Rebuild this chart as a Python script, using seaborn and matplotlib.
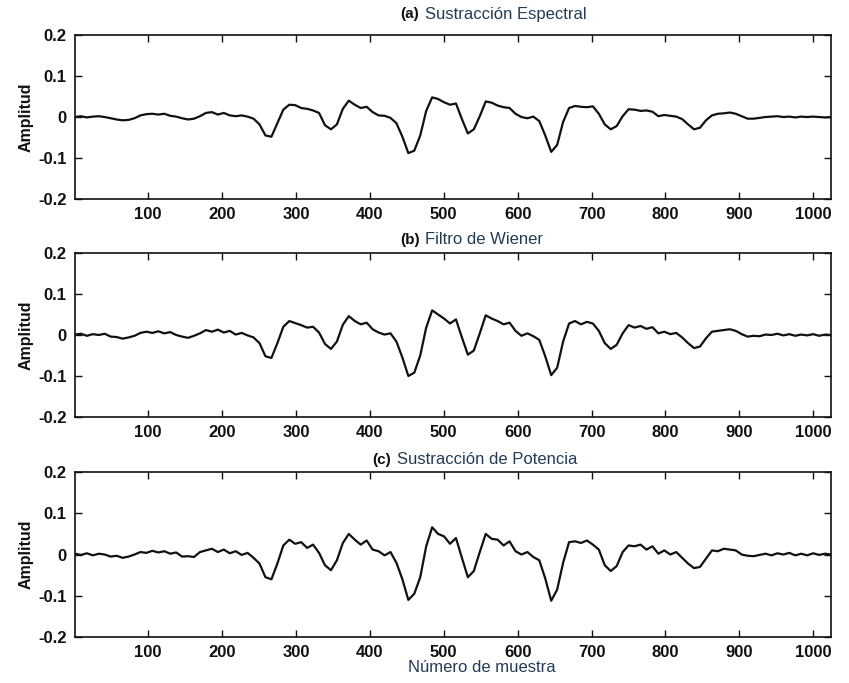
import numpy as np
import pandas as pd
import seaborn as sns
import matplotlib.pyplot as plt

# ----------------- Data -----------------
panel_tags = ["(a)", "(b)", "(c)"]
panel_names = ["Sustracción Espectral", "Filtro de Wiener", "Sustracción de Potencia"]

espectral = [
    0.000, 0.002, -0.001, 0.001, 0.002, 0.000, -0.003, -0.006, -0.008, -0.007,
    -0.003, 0.004, 0.007, 0.008, 0.006, 0.008, 0.003, 0.001, -0.003, -0.006,
    -0.004, 0.002, 0.010, 0.012, 0.006, 0.010, 0.004, 0.002, 0.004, 0.001,
    -0.004, -0.018, -0.045, -0.048, -0.015, 0.018, 0.030, 0.029, 0.022, 0.020,
    0.016, 0.010, -0.020, -0.030, -0.018, 0.020, 0.040, 0.030, 0.022, 0.025,
    0.012, 0.004, 0.003, -0.002, -0.015, -0.048, -0.088, -0.082, -0.045, 0.015,
    0.048, 0.044, 0.036, 0.030, 0.033, -0.005, -0.040, -0.030, 0.002, 0.038,
    0.035, 0.028, 0.024, 0.022, 0.008, 0.000, -0.003, 0.001, -0.010, -0.045,
    -0.085, -0.068, -0.012, 0.022, 0.027, 0.025, 0.024, 0.026, 0.008, -0.018,
    -0.030, -0.022, 0.002, 0.019, 0.018, 0.015, 0.016, 0.013, 0.002, 0.005,
    0.003, 0.001, -0.005, -0.018, -0.030, -0.026, -0.008, 0.004, 0.008, 0.009,
    0.011, 0.008, 0.002, -0.004, -0.004, -0.002, 0.000, 0.001, 0.002, 0.000,
    0.001, -0.001, 0.001, 0.000, 0.001, 0.000, -0.001, 0.000,
]

wiener = [
    0.001, 0.003, -0.002, 0.002, 0.000, 0.003, -0.004, -0.005, -0.009, -0.006,
    -0.002, 0.005, 0.008, 0.005, 0.009, 0.004, 0.007, 0.000, -0.004, -0.007,
    -0.002, 0.004, 0.012, 0.008, 0.013, 0.006, 0.010, 0.001, 0.005, -0.001,
    -0.006, -0.020, -0.052, -0.056, -0.020, 0.020, 0.034, 0.029, 0.024, 0.018,
    0.020, 0.006, -0.022, -0.034, -0.016, 0.025, 0.046, 0.034, 0.026, 0.030,
    0.014, 0.006, 0.001, 0.004, -0.016, -0.055, -0.100, -0.092, -0.050, 0.018,
    0.060, 0.050, 0.040, 0.028, 0.038, -0.006, -0.048, -0.038, 0.004, 0.048,
    0.040, 0.034, 0.026, 0.030, 0.010, -0.002, 0.004, -0.003, -0.012, -0.052,
    -0.098, -0.080, -0.016, 0.028, 0.034, 0.026, 0.032, 0.028, 0.010, -0.020,
    -0.034, -0.024, 0.004, 0.024, 0.018, 0.022, 0.015, 0.019, 0.004, 0.008,
    0.002, 0.005, -0.006, -0.020, -0.032, -0.028, -0.008, 0.008, 0.010, 0.012,
    0.014, 0.010, 0.002, -0.004, -0.002, -0.003, 0.001, 0.000, 0.003, -0.001,
    0.002, -0.002, 0.001, -0.001, 0.002, -0.002, 0.001, 0.000,
]

potencia = [
    0.002, -0.001, 0.003, -0.002, 0.002, 0.000, -0.005, -0.003, -0.008, -0.005,
    0.000, 0.006, 0.004, 0.009, 0.005, 0.008, 0.002, 0.005, -0.005, -0.004,
    -0.006, 0.006, 0.010, 0.014, 0.006, 0.012, 0.003, 0.008, -0.001, 0.004,
    -0.008, -0.022, -0.055, -0.060, -0.022, 0.022, 0.036, 0.026, 0.030, 0.016,
    0.024, 0.004, -0.026, -0.038, -0.014, 0.028, 0.050, 0.036, 0.024, 0.034,
    0.012, 0.008, -0.002, 0.006, -0.020, -0.060, -0.110, -0.095, -0.055, 0.020,
    0.066, 0.050, 0.044, 0.026, 0.040, -0.008, -0.055, -0.040, 0.006, 0.050,
    0.038, 0.036, 0.022, 0.032, 0.008, 0.000, 0.006, -0.006, -0.014, -0.058,
    -0.112, -0.085, -0.020, 0.030, 0.032, 0.028, 0.034, 0.024, 0.012, -0.026,
    -0.040, -0.028, 0.006, 0.022, 0.020, 0.024, 0.012, 0.020, 0.002, 0.010,
    0.000, 0.006, -0.008, -0.022, -0.033, -0.030, -0.010, 0.010, 0.008, 0.014,
    0.012, 0.010, 0.000, -0.003, -0.004, -0.001, 0.002, -0.002, 0.003, 0.000,
    0.004, -0.002, 0.002, -0.002, 0.003, -0.001, 0.002, 0.000,
]

x_ticks = [100, 200, 300, 400, 500, 600, 700, 800, 900, 1000]
y_ticks = [-0.2, -0.1, 0, 0.1, 0.2]
y_ticklabels = ["-0.2", "-0.1", "0", "0.1", "0.2"]

signals = [espectral, wiener, potencia]

# ----------------- Style -----------------
sns.set_style("ticks")
plt.rcParams["font.family"] = ["Liberation Sans", "DejaVu Sans"]
plt.rcParams["axes.linewidth"] = 1.2

text_blue = "#223c58"
ink = "#111111"

fig = plt.figure(figsize=(8.49, 6.83), dpi=100)

# axes boxes in figure fractions: [left, bottom, width, height]
boxes = [
    [0.0883, 0.7086, 0.8905, 0.2401],
    [0.0883, 0.3895, 0.8905, 0.2401],
    [0.0883, 0.0673, 0.8905, 0.2416],
]
title_pos = [(400, 14), (400, 240), (372, 460)]

for i, sig in enumerate(signals):
    ax = fig.add_axes(boxes[i])
    df = pd.DataFrame({"muestra": np.linspace(1, 1024, len(sig)), "amplitud": sig})
    sns.lineplot(data=df, x="muestra", y="amplitud", ax=ax, color=ink,
                 linewidth=1.6, estimator=None)

    ax.set_xlim(1, 1024)
    ax.set_ylim(-0.2, 0.2)
    ax.set_xticks(x_ticks)
    ax.set_yticks(y_ticks)
    ax.set_yticklabels(y_ticklabels)
    ax.tick_params(direction="in", length=5, width=1, top=True, right=True,
                   labelsize=12, pad=6, colors=ink)
    for lab in ax.get_xticklabels() + ax.get_yticklabels():
        lab.set_fontweight("bold")
    for side in ["top", "right", "left", "bottom"]:
        ax.spines[side].set_visible(True)
        ax.spines[side].set_color(ink)

    ax.set_xlabel("")
    ax.set_ylabel("Amplitud", fontsize=11.5, fontweight="bold", labelpad=3,
                  color=ink)

    # panel titles: bold tag in black, name in dark blue
    px, py = title_pos[i]
    fig.text(px / 849, 1 - py / 683, panel_tags[i], fontsize=11, fontweight="bold",
             color=ink, ha="left", va="center")
    fig.text((px + 25) / 849, 1 - py / 683, panel_names[i], fontsize=12,
             color=text_blue, ha="left", va="center")

fig.text(482 / 849, 1 - 668 / 683, "Número de muestra", fontsize=12,
         color=text_blue, ha="center", va="center")

plt.savefig("out.png", dpi=100)
